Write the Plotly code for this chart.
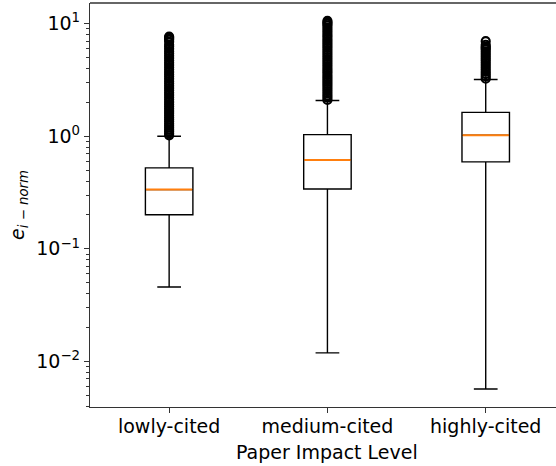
import plotly.graph_objects as go

categories = ["lowly-cited", "medium-cited", "highly-cited"]
positions = [1, 2, 3]
q1 = [0.201, 0.340, 0.592]
median = [0.336, 0.617, 1.02]
q3 = [0.524, 1.035, 1.63]
lower_whisker = [0.0458, 0.0119, 0.00569]
upper_whisker = [1.0, 2.08, 3.19]

lowly_fliers = [1.02, 1.06, 1.1, 1.14, 1.19, 1.24, 1.29, 1.35, 1.41, 1.47, 1.54, 1.61,
                1.68, 1.76, 1.84, 1.93, 2.02, 2.12, 2.22, 2.33, 2.44, 2.56, 2.68, 2.81,
                2.95, 3.09, 3.24, 3.4, 3.56, 3.73, 3.91, 4.1, 4.3, 4.5, 4.72, 4.95, 5.19,
                5.44, 5.7, 5.98, 6.27, 6.5, 6.9, 7.2, 7.4, 7.55, 7.7]
medium_fliers = [2.1, 2.2, 2.3, 2.41, 2.52, 2.64, 2.77, 2.9, 3.04, 3.18, 3.33, 3.49,
                 3.66, 3.83, 4.01, 4.2, 4.4, 4.61, 4.83, 5.06, 5.3, 5.55, 5.81, 6.09,
                 6.38, 6.68, 7.0, 7.33, 7.68, 8.04, 8.42, 8.82, 9.24, 9.68, 10.0, 10.3, 10.6]
highly_fliers = [3.25, 3.4, 3.56, 3.73, 3.91, 4.1, 4.29, 4.49, 4.7, 4.92, 5.15, 5.39,
                 5.64, 5.9, 6.1, 6.25, 6.5, 7.0]
fliers = [lowly_fliers, medium_fliers, highly_fliers]

y_tickvals = [0.01, 0.1, 1, 10]
y_ticktext = ["10<sup>−2</sup>", "10<sup>−1</sup>", "10<sup>0</sup>", "10<sup>1</sup>"]

x_title = "Paper Impact Level"
y_title = "<i>e</i><sub><i>i − norm</i></sub>"

BOX_W = 0.3
FONT = "DejaVu Sans"

fig = go.Figure()

fig.add_trace(go.Box(
    x=positions, q1=q1, median=median, q3=q3,
    lowerfence=lower_whisker, upperfence=upper_whisker,
    width=BOX_W, whiskerwidth=0.5,
    line=dict(color="black", width=1.4),
    fillcolor="rgba(255,255,255,0)",
    boxpoints=False, showlegend=False, hoverinfo="skip",
))

mx, my = [], []
for p, m in zip(positions, median):
    mx += [p - BOX_W / 2 + 0.004, p + BOX_W / 2 - 0.004, None]
    my += [m, m, None]
fig.add_trace(go.Scatter(x=mx, y=my, mode="lines",
                         line=dict(color="#ff7f0e", width=2.0),
                         showlegend=False, hoverinfo="skip"))

for p, f in zip(positions, fliers):
    fig.add_trace(go.Scatter(
        x=[p] * len(f), y=f, mode="markers",
        marker=dict(symbol="circle-open", size=8, color="black",
                    line=dict(width=2.2, color="black")),
        showlegend=False, hoverinfo="skip"))

fig.add_annotation(x=2, xref="x", y=-0.078, yref="paper", yanchor="top",
                   text=x_title, showarrow=False,
                   font=dict(family=FONT, size=19, color="black"))

# top spine only (right side of the frame is cropped in the original)
fig.add_shape(type="line", xref="paper", yref="paper", x0=0, x1=1, y0=1, y1=1,
              line=dict(color="#333", width=1.3))

fig.update_layout(
    width=556, height=466,
    margin=dict(l=90, r=0, t=3, b=59, autoexpand=False),
    paper_bgcolor="white", plot_bgcolor="white",
    font=dict(family=FONT, size=19, color="black"),
    xaxis=dict(
        range=[0.5, 3.444], tickvals=positions, ticktext=categories,
        showline=True, linecolor="#333", linewidth=1.3, mirror=False,
        ticks="outside", ticklen=5, tickcolor="#333", tickwidth=1.2,
        ticklabelstandoff=-3, automargin=False,
        showgrid=False, zeroline=False,
    ),
    yaxis=dict(
        type="log", range=[-2.405, 1.184],
        tickvals=y_tickvals, ticktext=y_ticktext,
        showline=True, linecolor="#333", linewidth=1.3, mirror=False,
        ticks="outside", ticklen=5, tickcolor="#333", tickwidth=1.2,
        minor=dict(ticks="outside", ticklen=3, tickcolor="#333", tickwidth=1, dtick="D1", showgrid=False),
        showgrid=False, zeroline=False, automargin=False,
        title=dict(text=y_title, standoff=6, font=dict(family=FONT, size=19, color="black")),
    ),
)

fig.write_html(
    "out.html", config={"displayModeBar": False},
    post_script=("document.documentElement.style.overflow='hidden';"
                 "document.body.style.margin='0';document.body.style.overflow='hidden';"))
